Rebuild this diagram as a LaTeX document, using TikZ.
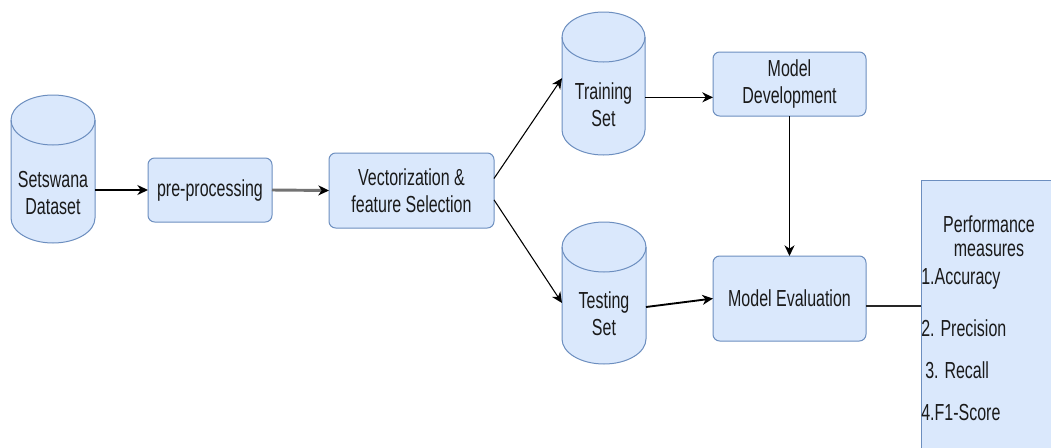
\documentclass[tikz,border=0pt]{standalone}
\usepackage{fontspec}
\setmainfont{Liberation Sans}
\usepackage{graphicx}
\usetikzlibrary{arrows.meta,calc}

\definecolor{boxfill}{HTML}{DAE8FC}
\definecolor{boxline}{HTML}{6C8EBF}
\definecolor{ink}{HTML}{1A1A1A}

% every line of text is set a little taller than wide
\newcommand\tl[1]{\scalebox{1}[1.45]{#1}}

% draws a drum (database cylinder) around an invisible node
\newcommand\drum[1]{%
  \path let \p1=(#1.north west), \p2=(#1.south east),
            \n1={(\x2-\x1)/2} in
    [drumline]
    (\x1,\y1-18.75pt) -- (\x1,\y2+18.75pt)
      arc[start angle=180,end angle=360,x radius=\n1,y radius=18.75pt]
      -- (\x2,\y1-18.75pt)
      arc[start angle=0,end angle=180,x radius=\n1,y radius=18.75pt]
      -- cycle;
  \path let \p1=(#1.north west), \p2=(#1.south east),
            \n1={(\x2-\x1)/2} in
    [drumseam]
    (\x1,\y1-18.75pt)
      arc[start angle=180,end angle=360,x radius=\n1,y radius=18.75pt];
}

\tikzset{
  txt/.style={font=\fontsize{12}{20.25}\selectfont, text=ink, align=center, inner sep=0pt},
  drumbox/.style={draw=none, inner sep=0pt, outer sep=0pt},
  drumline/.style={draw=boxline, fill=boxfill, line width=0.75pt},
  drumseam/.style={draw=boxline, line width=0.75pt},
  stepbox/.style={draw=boxline, fill=boxfill, line width=0.75pt, rounded corners=5pt,
    inner sep=0pt, outer sep=0pt, font=\fontsize{12}{20.25}\selectfont, text=ink, align=center},
  flow/.style={draw=black, line width=1.1pt, -{Stealth[length=8pt,width=7.5pt,inset=2.5pt]}},
  greyflow/.style={draw=black!55, line width=2.2pt, -{Stealth[length=8pt,width=7.5pt,inset=2.5pt,black]}},
  plain/.style={draw=black!85, line width=1.1pt},
}

\begin{document}
\begin{tikzpicture}[x=0.75pt,y=-0.75pt]
\useasboundingbox (0,0) rectangle (1051,447);
\clip (0,0) rectangle (1051,447);

% data stores
\node[drumbox, minimum width=63pt, minimum height=111pt] (set) at (53,169) {};
\node[drumbox, minimum width=62.25pt, minimum height=107.25pt] (train) at (603.5,83.5) {};
\node[drumbox, minimum width=63pt, minimum height=106.5pt] (test) at (604,293) {};
\drum{set}
\drum{train}
\drum{test}
\node[txt] (setlbl) at (53,193) {\tl{Setswana}\\\tl{Dataset}};
\node[txt] (trainlbl) at (603.5,105) {\tl{Training}\\\tl{Set}};
\node[txt] (testlbl) at (604,314) {\tl{Testing}\\\tl{Set}};

% processing steps
\node[stepbox, minimum width=93pt, minimum height=48pt] (pre) at (210,190) {\tl{pre-processing}};
\node[stepbox, minimum width=123.75pt, minimum height=56.25pt] (vec) at (411.5,190.5)
  {\tl{Vectorization \&}\\\tl{feature Selection}};
\node[stepbox, minimum width=114.75pt, minimum height=48pt] (dev) at (789.5,84)
  {\tl{Model}\\\tl{Development}};
\node[stepbox, minimum width=114.75pt, minimum height=63.75pt] (eval) at (789.5,298.5)
  {\tl{Model Evaluation}};

% performance panel, running off the right and bottom edges
\node[draw=boxline, fill=boxfill, line width=0.75pt, minimum width=105pt, minimum height=210pt,
  inner sep=0pt, outer sep=0pt] (perf) at (991,320) {};
\node[txt] (perfhead) at (989,236) {\tl{Performance}\\[-2.5pt]\tl{measures}};
\node[txt, anchor=west] (m1) at (921,279) {\tl{1.Accuracy}};
\node[txt, anchor=west] (m2) at (921,328) {\tl{2. Precision}};
\node[txt, anchor=west] (m3) at (925,370) {\tl{3. Recall}};
\node[txt, anchor=west] (m4) at (921,413) {\tl{4.F1-Score}};

% connectors
\draw[flow] (set.east |- pre.west) -- (pre.west);
\draw[greyflow] (pre.east) -- (vec.west);
\draw[flow, line width=0.8pt] ([yshift=9pt]vec.east) -- ([yshift=4pt]train.west);
\draw[flow, line width=0.8pt] ([yshift=-7pt]vec.east) -- ([yshift=-7.5pt]test.west);
\coordinate (devin) at ([yshift=-10pt]dev.west);
\draw[flow] (devin -| train.east) -- (devin);
\draw[flow] (dev.south) -- (eval.north);
\draw[flow, line width=1.4pt] ([yshift=-10.5pt]test.east) -- (eval.west);
\coordinate (evalout) at ([yshift=-5.5pt]eval.east);
\draw[plain] (evalout) -- (evalout -| perf.west);
\end{tikzpicture}
\end{document}
